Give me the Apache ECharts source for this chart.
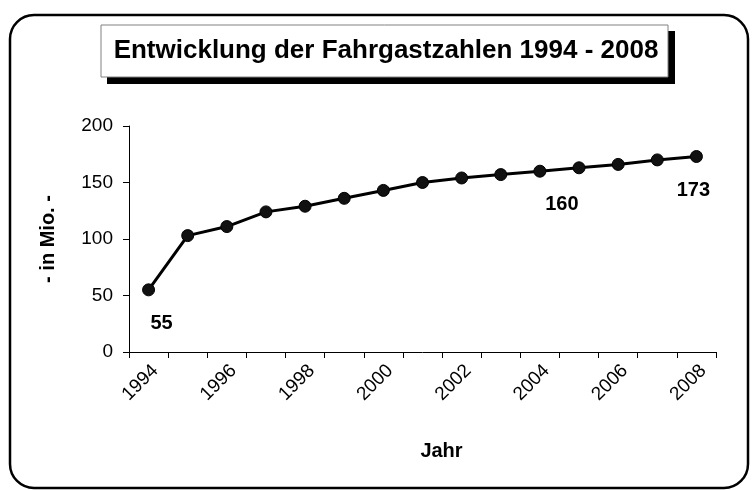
<!DOCTYPE html>
<html>
<head>
<meta charset="utf-8">
<script src="https://cdn.jsdelivr.net/npm/echarts@6/dist/echarts.min.js"></script>
<style>
  html, body { margin: 0; padding: 0; background: #fff; }
  #main { width: 755px; height: 490px; }
</style>
</head>
<body>
<div id="main"></div>
<script>
var years = ['1994', '1995', '1996', '1997', '1998', '1999', '2000', '2001',
  '2002', '2003', '2004', '2005', '2006', '2007', '2008'];
var passengers = [55, 103, 111, 124, 129, 136, 143, 150, 154, 157, 160, 163, 166, 170, 173];
var labelledYears = ['1994', '2004', '2008'];
var yTicks = [0, 50, 100, 150, 200];

var font = 'Liberation Sans';
// small horizontal nudges of the value labels, like in the original
var labelShift = { '1994': 13, '2004': 22, '2008': -3 };

var chartDom = document.getElementById('main');
var myChart = echarts.init(chartDom);

var seriesData = passengers.map(function (v, i) {
  var y = years[i];
  if (labelledYears.indexOf(y) < 0) return v;
  return { value: v, label: { show: true, offset: [labelShift[y] || 0, 0] } };
});

var option = {
  backgroundColor: '#fff',
  animation: false,
  graphic: [
    // outer rounded frame
    {
      type: 'rect',
      shape: { x: 10, y: 15, width: 738, height: 473, r: 24 },
      style: { fill: 'none', stroke: '#000', lineWidth: 2.5 },
      z: 0
    },
    // title box shadow
    {
      type: 'rect',
      shape: { x: 107, y: 31, width: 568, height: 53 },
      style: { fill: '#000' },
      z: 1
    },
    // title box
    {
      type: 'rect',
      shape: { x: 101, y: 25, width: 567, height: 52 },
      style: { fill: '#fff', stroke: '#808080', lineWidth: 1 },
      z: 2
    },
    {
      type: 'text',
      x: 386,
      y: 51,
      style: {
        text: 'Entwicklung der Fahrgastzahlen 1994 - 2008',
        font: 'bold 26px "Liberation Sans"',
        fill: '#000',
        align: 'center',
        verticalAlign: 'middle'
      },
      z: 3
    }
  ],
  grid: {
    left: 129,
    right: 39,
    top: 126,
    bottom: 138
  },
  xAxis: {
    type: 'category',
    data: years,
    boundaryGap: true,
    name: 'Jahr',
    nameLocation: 'middle',
    nameGap: 89,
    nameTextStyle: {
      fontFamily: font, fontWeight: 'bold', fontSize: 20, color: '#000',
      padding: [0, 0, 0, 38]
    },
    axisLine: { lineStyle: { color: '#000', width: 1 } },
    axisTick: { show: true, interval: 0, length: 6, lineStyle: { color: '#000' } },
    axisLabel: {
      interval: 1,
      rotate: 45,
      margin: 9,
      verticalAlign: 'top',
      fontFamily: font,
      fontSize: 19,
      color: '#000'
    },
    splitLine: { show: false }
  },
  yAxis: {
    type: 'value',
    min: yTicks[0],
    max: yTicks[yTicks.length - 1],
    interval: yTicks[1] - yTicks[0],
    name: '- in Mio. -',
    nameLocation: 'middle',
    nameGap: 71,
    nameTextStyle: { fontFamily: font, fontWeight: 'bold', fontSize: 20, color: '#000' },
    axisLine: { show: true, lineStyle: { color: '#000', width: 1 } },
    axisTick: { show: true, length: 6, lineStyle: { color: '#000' } },
    axisLabel: { margin: 16, fontFamily: font, fontSize: 19, color: '#000' },
    splitLine: { show: false }
  },
  series: [
    {
      name: 'Fahrgastzahlen',
      type: 'line',
      data: seriesData,
      symbol: 'circle',
      symbolSize: 12,
      showAllSymbol: true,
      itemStyle: { color: '#111', borderColor: '#000', borderWidth: 1 },
      lineStyle: { color: '#000', width: 3 },
      label: {
        show: false,
        position: 'bottom',
        distance: 17,
        fontFamily: font,
        fontWeight: 'bold',
        fontSize: 20,
        color: '#000'
      }
    }
  ]
};

option && myChart.setOption(option);
</script>
</body>
</html>
